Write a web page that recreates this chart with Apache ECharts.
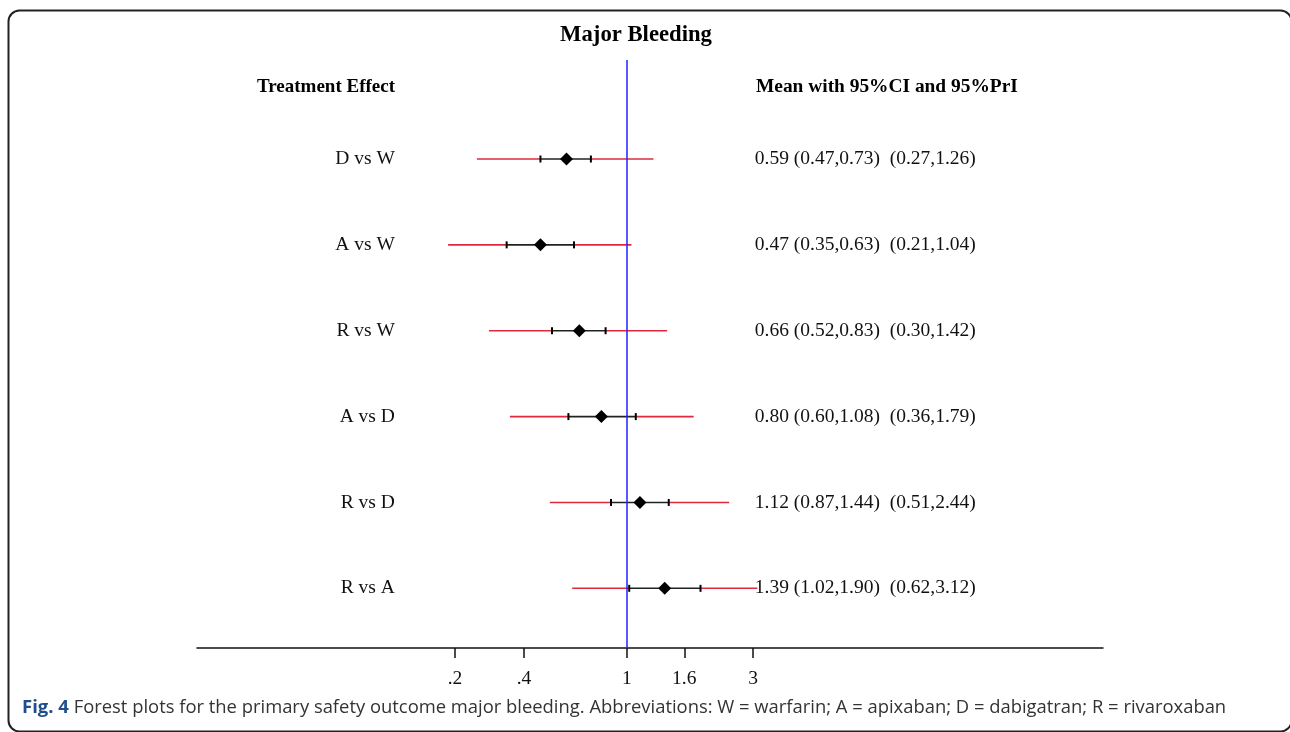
<!DOCTYPE html>
<html>
<head>
<meta charset="utf-8">
<script src="https://cdn.jsdelivr.net/npm/echarts@6/dist/echarts.min.js"></script>
<style>
html,body{margin:0;padding:0;background:#fff;}
#chart{width:1290px;height:732px;}
</style>
</head>
<body>
<div id="chart"></div>
<script>
// ---- data ----
const rows     = ['D vs W','A vs W','R vs W','A vs D','R vs D','R vs A'];
const means    = [0.59, 0.47, 0.66, 0.80, 1.12, 1.39];
const ciLow    = [0.47, 0.35, 0.52, 0.60, 0.87, 1.02];
const ciHigh   = [0.73, 0.63, 0.83, 1.08, 1.44, 1.90];
const priLow   = [0.27, 0.21, 0.30, 0.36, 0.51, 0.62];
const priHigh  = [1.26, 1.04, 1.42, 1.79, 2.44, 3.12];
const tickValues = [0.223, 0.407, 1, 1.649, 3.004];
const tickLabels = ['.2', '.4', '1', '1.6', '3'];

const titleText = 'Major Bleeding';
const leftHeader = 'Treatment Effect';
const rightHeader = 'Mean with 95%CI and 95%PrI';
const captionBold = 'Fig. 4';
const captionText = ' Forest plots for the primary safety outcome major bleeding. Abbreviations: W = warfarin; A = apixaban; D = dabigatran; R = rivaroxaban';

// ---- layout constants ----
const SERIF = '"Liberation Serif","Times New Roman",serif';
const ROW_LABEL_AT = 0.132;   // axis value where row labels end (right aligned)
const VALUE_TEXT_AT = 3.0;    // axis value where value text starts
const RED = '#de2a3c';
const BLUE = '#2020ff';

const fmt = v => v.toFixed(2);
const seriesData = rows.map((r, i) => [i + 1, means[i], ciLow[i], ciHigh[i], priLow[i], priHigh[i]]);

const chart = echarts.init(document.getElementById('chart'), null, {renderer: 'canvas'});

function renderItem(params, api) {
  const idx = params.dataIndex;
  const row = api.value(0);
  const m = api.value(1), cl = api.value(2), ch = api.value(3), pl = api.value(4), ph = api.value(5);
  const pt = v => api.coord([v, row]);
  const y = pt(m)[1];
  const xm = pt(m)[0], xcl = pt(cl)[0], xch = pt(ch)[0], xpl = pt(pl)[0], xph = pt(ph)[0];
  const d = 6.5;
  const capH = 3.5;
  return {
    type: 'group',
    children: [
      {type: 'line', shape: {x1: xpl, y1: y, x2: xcl, y2: y}, style: {stroke: RED, lineWidth: 1.6}},
      {type: 'line', shape: {x1: xch, y1: y, x2: xph, y2: y}, style: {stroke: RED, lineWidth: 1.6}},
      {type: 'line', shape: {x1: xcl, y1: y, x2: xch, y2: y}, style: {stroke: '#222', lineWidth: 1.6}},
      {type: 'line', shape: {x1: xcl, y1: y - capH, x2: xcl, y2: y + capH}, style: {stroke: '#000', lineWidth: 2}},
      {type: 'line', shape: {x1: xch, y1: y - capH, x2: xch, y2: y + capH}, style: {stroke: '#000', lineWidth: 2}},
      {type: 'polygon', shape: {points: [[xm, y - d], [xm + d, y], [xm, y + d], [xm - d, y]]}, style: {fill: '#000'}},
      {type: 'text', x: pt(ROW_LABEL_AT)[0], y: y,
        style: {text: rows[idx], align: 'right', verticalAlign: 'middle', font: '19.5px ' + SERIF, fill: '#111'}},
      {type: 'text', x: pt(VALUE_TEXT_AT)[0] + 2, y: y,
        style: {text: fmt(m) + ' (' + fmt(cl) + ',' + fmt(ch) + ')  (' + fmt(pl) + ',' + fmt(ph) + ')',
          align: 'left', verticalAlign: 'middle', font: '19.5px ' + SERIF, fill: '#111'}}
    ]
  };
}

const option = {
  animation: false,
  backgroundColor: '#fff',
  grid: {left: 197, right: 187, top: 60, bottom: 84},
  xAxis: {
    type: 'log',
    logBase: 10,
    min: 0.02347,
    max: 63.7,
    axisLine: {show: true, onZero: false, lineStyle: {color: '#111', width: 1.5}},
    axisTick: {show: true, customValues: tickValues, length: 10, lineStyle: {color: '#111', width: 1.5}},
    axisLabel: {
      show: true, customValues: tickValues, margin: 21,
      fontFamily: SERIF, fontSize: 19.5, color: '#111',
      formatter: function (v) {
        let best = 0, bd = Infinity;
        tickValues.forEach((t, k) => { const dd = Math.abs(Math.log(t) - Math.log(v)); if (dd < bd) { bd = dd; best = k; } });
        return tickLabels[best];
      }
    },
    splitLine: {show: false},
    minorTick: {show: false},
    minorSplitLine: {show: false}
  },
  yAxis: {
    type: 'value',
    inverse: true,
    min: -0.153,
    max: 6.695,
    show: false,
    splitLine: {show: false}
  },
  series: [
    {
      type: 'line',
      data: [],
      z: 5,
      markLine: {
        silent: true,
        symbol: ['none', 'none'],
        label: {show: false},
        lineStyle: {color: BLUE, width: 1.5, type: 'solid'},
        data: [{xAxis: 1}]
      }
    },
    {
      type: 'custom',
      renderItem: renderItem,
      encode: {x: [1, 2, 3, 4, 5], y: 0},
      data: seriesData,
      z: 3
    }
  ],
  graphic: [
    {type: 'rect', left: 6, top: 8, z: 0, silent: true,
      shape: {x: 0, y: 0, width: 1283, height: 721, r: 11},
      style: {fill: 'none', stroke: '#222', lineWidth: 2}},
    {type: 'text', x: 636, y: 35, z: 10,
      style: {text: titleText, align: 'center', verticalAlign: 'middle', font: 'bold 22.7px ' + SERIF, fill: '#000'}},
    {type: 'text', x: 395, y: 87, z: 10,
      style: {text: leftHeader, align: 'right', verticalAlign: 'middle', font: 'bold 19px ' + SERIF, fill: '#000'}},
    {type: 'text', x: 756, y: 87, z: 10,
      style: {text: rightHeader, align: 'left', verticalAlign: 'middle', font: 'bold 19.4px ' + SERIF, fill: '#000'}},
    {type: 'text', x: 22, y: 708, z: 10,
      style: {
        text: '{b|' + captionBold + '}{n|' + captionText + '}',
        verticalAlign: 'middle', align: 'left',
        rich: {
          b: {fontFamily: '"Open Sans", sans-serif', fontWeight: 'bold', fontSize: 18.5, fill: '#1f4f8a'},
          n: {fontFamily: '"Open Sans", sans-serif', fontSize: 18.4, fill: '#333'}
        }
      }}
  ]
};
chart.setOption(option);
</script>
</body>
</html>
